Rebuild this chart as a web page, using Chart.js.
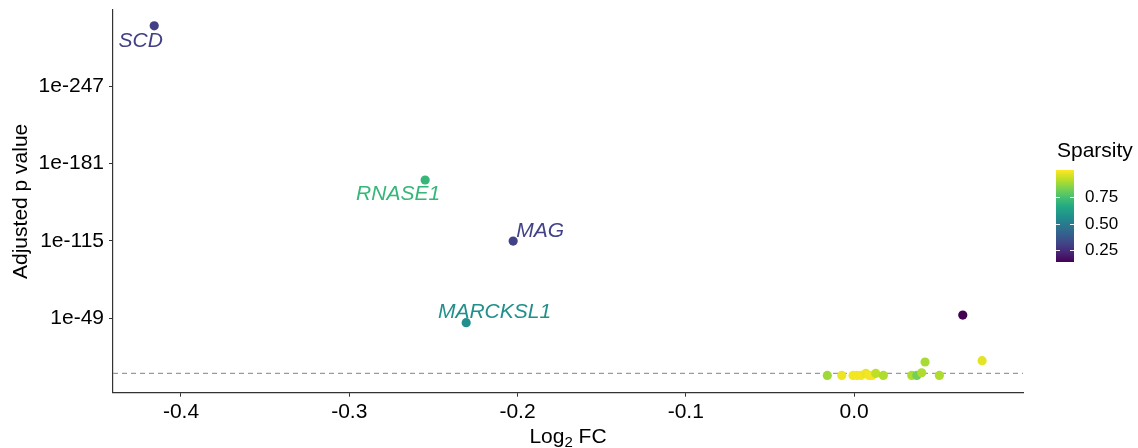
<!DOCTYPE html>
<html>
<head>
<meta charset="utf-8">
<script src="https://cdn.jsdelivr.net/npm/chart.js@4.4.1/dist/chart.umd.min.js"></script>
<style>
html,body{margin:0;padding:0;background:#fff;}
#wrap{width:1138px;height:448px;position:relative;}
</style>
</head>
<body>
<div id="wrap"><canvas id="c" width="1138" height="448"></canvas></div>
<script>
// ---- data ----
const genes = ["SCD","RNASE1","MAG","MARCKSL1","","","","","","","","","","","","","","","","",""];
const log2fc = [-0.4159,-0.2549,-0.2026,-0.2305,
  -0.0159,-0.0073,-0.0006,0.0018,0.0042,0.0070,0.0089,0.0107,0.0129,0.0174,
  0.0343,0.0373,0.0402,0.0422,0.0507,0.0646,0.0761];
const negLog10P = [298.5,167.0,114.9,45.3,
  0.3,0.3,0.3,0.3,0.3,2.0,0.3,0.3,2.0,0.3,
  0.3,0.3,2.6,11.8,0.3,51.8,12.9];
const sparsity = [0.30,0.71,0.31,0.57,
  0.88,0.98,0.99,0.99,0.99,0.98,0.99,0.99,0.92,0.90,
  0.90,0.82,0.90,0.89,0.90,0.14,0.97];
const labelled = ["SCD","RNASE1","MAG","MARCKSL1"];
const yTickValues = [49,115,181,247];
const yTickLabels = ["1e-49","1e-115","1e-181","1e-247"];
const xTickValues = [-0.4,-0.3,-0.2,-0.1,0.0];
const xTickLabels = ["-0.4","-0.3","-0.2","-0.1","0.0"];
const threshold = 2;
const legendTicks = [0.25,0.50,0.75];
const legendTickLabels = ["0.25","0.50","0.75"];
const sparsityMin = 0.14, sparsityMax = 1.005;
const xMin = -0.4404, xMax = 0.1004, yMin = -14.4, yMax = 312;

// ---- label styling (pixel offsets from point) ----
const labelOffsets = {SCD:[-13.5,21], RNASE1:[-27,20], MAG:[27,-4.3], MARCKSL1:[28.3,-4.4]};

// ---- viridis colormap ----
const viridis = ["#440154","#482475","#414487","#355f8d","#2a788e","#21918c","#22a884","#44bf70","#7ad151","#bddf26","#fde725"];
function hex2rgb(h){return [parseInt(h.substr(1,2),16),parseInt(h.substr(3,2),16),parseInt(h.substr(5,2),16)];}
function viridisAt(t){
  t=Math.max(0,Math.min(1,t));
  const p=t*10, i=Math.min(9,Math.floor(p)), f=p-i;
  const a=hex2rgb(viridis[i]), b=hex2rgb(viridis[i+1]);
  const c=a.map((v,k)=>Math.round(v+(b[k]-v)*f));
  return `rgb(${c[0]},${c[1]},${c[2]})`;
}
function sparsityColor(s){return viridisAt((s-sparsityMin)/(sparsityMax-sparsityMin));}

const points = log2fc.map((x,i)=>({x:x,y:negLog10P[i],s:sparsity[i],g:genes[i]}));
const colors = points.map(p=>sparsityColor(p.s));

const FONT = "'Liberation Sans', Arial, sans-serif";

const overlay = {
  id:'overlay',
  beforeDatasetsDraw(chart){
    const ctx=chart.ctx, xs=chart.scales.x, ys=chart.scales.y;
    ctx.save();
    ctx.font = "italic 21px "+FONT;
    ctx.textAlign='center'; ctx.textBaseline='alphabetic';
    points.forEach((p,i)=>{
      if(!labelled.includes(p.g)) return;
      const off=labelOffsets[p.g];
      ctx.fillStyle=colors[i];
      ctx.fillText(p.g, xs.getPixelForValue(p.x)+off[0], ys.getPixelForValue(p.y)+off[1]);
    });
    ctx.restore();
  },
  afterDraw(chart){
    const ctx=chart.ctx, ca=chart.chartArea;
    ctx.save();
    ctx.fillStyle='#000';
    // x title with subscript
    ctx.font="21px "+FONT;
    const w1=ctx.measureText("Log").width;
    ctx.font="15px "+FONT; const w2=ctx.measureText("2").width;
    ctx.font="21px "+FONT; const w3=ctx.measureText(" FC").width;
    const cx=(ca.left+ca.right)/2; let x0=cx-(w1+w2+w3)/2;
    ctx.textAlign='left'; ctx.textBaseline='alphabetic';
    ctx.fillText("Log",x0,443);
    ctx.font="15px "+FONT; ctx.fillText("2",x0+w1,447);
    ctx.font="21px "+FONT; ctx.fillText(" FC",x0+w1+w2,443);
    // y title
    ctx.save();
    ctx.translate(27,(ca.top+ca.bottom)/2);
    ctx.rotate(-Math.PI/2);
    ctx.textAlign='center';
    ctx.fillText("Adjusted p value",0,0);
    ctx.restore();
    // legend
    const bx=1056, bw=18, bTop=170, bBot=262;
    const valToY=v=>bBot-(v-sparsityMin)/(sparsityMax-sparsityMin)*(bBot-bTop);
    const grad=ctx.createLinearGradient(0,bBot,0,bTop);
    for(let k=0;k<=40;k++){grad.addColorStop(k/40,viridisAt(k/40));}
    ctx.fillStyle=grad;
    ctx.fillRect(bx,bTop,bw,bBot-bTop);
    ctx.strokeStyle='rgba(255,255,255,0.9)'; ctx.lineWidth=1;
    ctx.font="17px "+FONT; ctx.textAlign='left'; ctx.textBaseline='middle';
    legendTicks.forEach((v,i)=>{
      const y=Math.round(valToY(v))+0.5;
      ctx.beginPath(); ctx.moveTo(bx,y); ctx.lineTo(bx+4,y); ctx.moveTo(bx+bw-4,y); ctx.lineTo(bx+bw,y); ctx.stroke();
      ctx.fillStyle='#000';
      ctx.fillText(legendTickLabels[i],1085,y);
    });
    ctx.font="21px "+FONT; ctx.textBaseline='alphabetic'; ctx.fillStyle='#000';
    ctx.fillText("Sparsity",1057,157);
    ctx.restore();
  }
};

new Chart(document.getElementById('c'),{
  data:{datasets:[
    {type:'line',data:[{x:xMin,y:threshold},{x:xMax,y:threshold}],borderColor:'#9a9a9a',borderWidth:1.2,borderDash:[5,4],pointRadius:0,fill:false,order:2},
    {type:'scatter',data:points,backgroundColor:colors,borderWidth:0,pointRadius:4.6,pointHoverRadius:4.6,order:1}
  ]},
  options:{
    responsive:false,animation:false,
    events:[],
    layout:{padding:{left:0,right:115,top:10,bottom:0}},
    plugins:{legend:{display:false},tooltip:{enabled:false}},
    scales:{
      x:{type:'linear',min:xMin,max:xMax,
        afterBuildTicks:s=>{s.ticks=xTickValues.map(v=>({value:v}));},
        afterFit:s=>{s.height=55.3;s.paddingLeft=0;s.paddingRight=0;},
        ticks:{callback:(v,i)=>xTickLabels[i],color:'#000',font:{family:FONT,size:21},padding:3,maxRotation:0,autoSkip:false},
        grid:{display:true,drawOnChartArea:false,drawTicks:true,tickLength:4,color:'#333',lineWidth:1},
        border:{display:true,color:'#333',width:1.2}
      },
      y:{type:'linear',min:yMin,max:yMax,
        afterBuildTicks:s=>{s.ticks=yTickValues.map(v=>({value:v}));},
        afterFit:s=>{s.width=113;s.paddingTop=0;s.paddingBottom=0;},
        ticks:{callback:(v,i)=>yTickLabels[i],color:'#000',font:{family:FONT,size:21},padding:5,autoSkip:false},
        grid:{display:true,drawOnChartArea:false,drawTicks:true,tickLength:4,color:'#333',lineWidth:1},
        border:{display:true,color:'#333',width:1.2}
      }
    }
  },
  plugins:[overlay]
});
</script>
</body>
</html>
